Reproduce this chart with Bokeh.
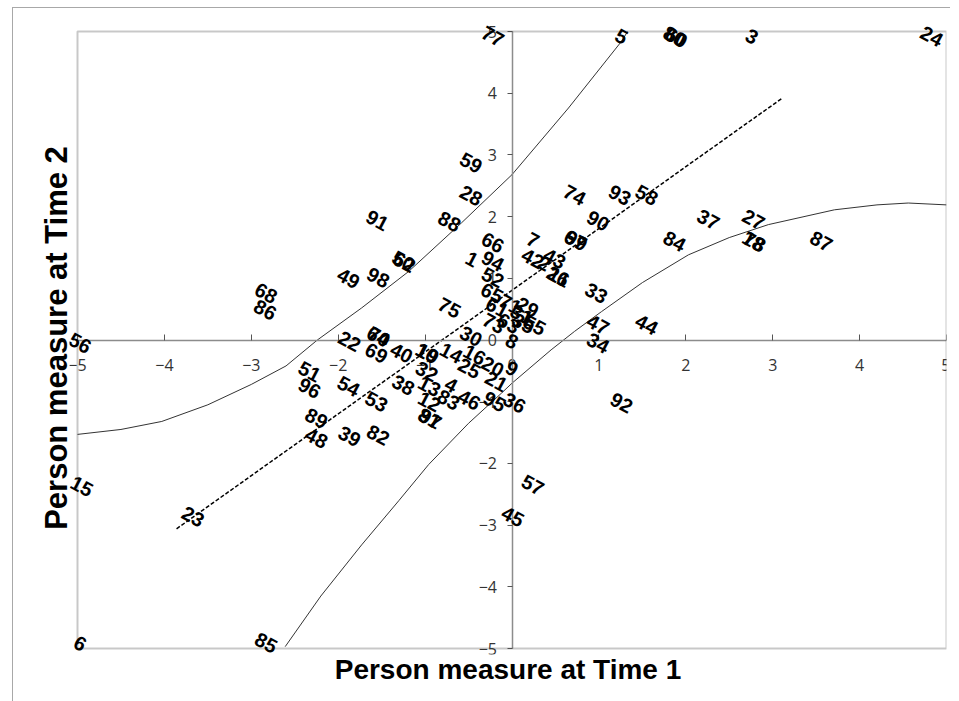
from bokeh.plotting import figure
from bokeh.models import ColumnDataSource, LabelSet, Range1d, FixedTicker, Title, BoxAnnotation
from bokeh.core.properties import value
from bokeh.embed import file_html
from bokeh.resources import INLINE

# person ids and their measures (Time 1 on x, Time 2 on y)
ids = ["77", "5", "80", "60", "3", "24", "59", "28", "91", "88", "50", "62", "49", "98",
       "68", "86", "56", "66", "1", "94", "52", "65", "75", "22", "74", "93", "58", "90",
       "37", "27", "7", "67", "99", "84", "18", "78", "87", "42", "2", "43", "26", "11",
       "33", "47", "44", "34", "61", "71", "29", "31", "73", "63", "35", "55", "8", "30",
       "64", "70", "69", "40", "10", "19", "14", "16", "32", "20", "25", "9", "51", "96",
       "54", "38", "13", "4", "21", "53", "12", "83", "46", "95", "36", "81", "97", "89",
       "48", "39", "82", "15", "23", "85", "6", "45", "57", "92"]
time1 = [-0.22, 1.26, 1.87, 1.89, 2.76, 4.83, -0.47, -0.47, -1.55, -0.72, -1.25, -1.24, -1.88, -1.54,
         -2.83, -2.84, -4.97, -0.22, -0.46, -0.22, -0.22, -0.23, -0.72, -1.87, 0.72, 1.24, 1.55, 0.99,
         2.26, 2.78, 0.24, 0.73, 0.74, 1.87, 2.78, 2.79, 3.56, 0.24, 0.37, 0.49, 0.53, 0.54,
         0.97, 0.99, 1.55, 0.99, -0.17, -0.02, 0.18, 0.11, -0.21, -0.04, 0.13, 0.26, 0.0, -0.47,
         -1.54, -1.53, -1.56, -1.27, -0.98, -0.97, -0.70, -0.43, -0.98, -0.22, -0.49, 0.0, -2.33, -2.33,
         -1.88, -1.25, -0.95, -0.70, -0.18, -1.56, -0.95, -0.73, -0.49, -0.20, 0.03, -0.95, -0.94, -2.25,
         -2.25, -1.87, -1.54, -4.95, -3.67, -2.83, -4.97, 0.01, 0.24, 1.26]
time2 = [4.92, 4.92, 4.92, 4.90, 4.92, 4.92, 2.87, 2.34, 1.94, 1.92, 1.28, 1.26, 1.00, 1.01,
         0.76, 0.49, -0.05, 1.58, 1.31, 1.28, 1.01, 0.76, 0.52, -0.02, 2.35, 2.35, 2.35, 1.93,
         1.95, 1.95, 1.62, 1.62, 1.61, 1.60, 1.60, 1.59, 1.60, 1.32, 1.24, 1.32, 1.03, 1.02,
         0.76, 0.25, 0.25, -0.05, 0.53, 0.58, 0.53, 0.41, 0.27, 0.27, 0.27, 0.24, -0.02, 0.06,
         0.06, 0.05, -0.21, -0.21, -0.21, -0.22, -0.21, -0.24, -0.51, -0.43, -0.46, -0.46, -0.51, -0.78,
         -0.75, -0.73, -0.75, -0.73, -0.67, -1.00, -1.00, -0.97, -0.97, -1.00, -1.02, -1.27, -1.28, -1.27,
         -1.59, -1.56, -1.54, -2.37, -2.86, -4.91, -4.92, -2.86, -2.35, -1.02]

# control curves and trend line
upper_x = [-5.0, -4.5, -4.03, -3.5, -3.0, -2.6, -2.24, -1.73, -1.19, -0.58, 0.0, 0.65, 1.26, 1.33]
upper_y = [-1.53, -1.45, -1.32, -1.05, -0.72, -0.42, 0.0, 0.52, 1.11, 1.9, 2.68, 3.76, 4.84, 5.0]
lower_x = [-2.61, -2.2, -1.73, -1.3, -0.96, -0.5, -0.12, 0.0, 0.45, 0.72, 1.03, 1.5, 2.03, 2.5,
           2.95, 3.71, 4.2, 4.56, 5.0]
lower_y = [-4.97, -4.15, -3.32, -2.6, -2.02, -1.35, -0.86, -0.70, -0.16, 0.14, 0.46, 0.93, 1.38, 1.66,
           1.87, 2.11, 2.19, 2.22, 2.19]
trend_x = [-3.86, 3.10]
trend_y = [-3.06, 3.91]

ticks = [-5, -4, -3, -2, -1, 0, 1, 2, 3, 4, 5]
lo, hi = ticks[0], ticks[-1]

# box (-5..5) in pixels, with a little room around it so edge labels are not cut
box_w, box_h = 869, 617
pad_l, pad_r, pad_t, pad_b = 8, 0, 10, 6
ux = box_w / (hi - lo)
uy = box_h / (hi - lo)

p = figure(frame_width=box_w + pad_l + pad_r, frame_height=box_h + pad_t + pad_b,
           x_range=Range1d(lo - pad_l / ux, hi + pad_r / ux),
           y_range=Range1d(lo - pad_b / uy, hi + pad_t / uy),
           output_backend="svg", toolbar_location=None,
           min_border_left=56, min_border_right=4, min_border_top=13, min_border_bottom=47)
p.margin = (7, 0, 0, 12)
p.styles = {"border-top": "1px solid #a8a8a8", "border-left": "1px solid #a8a8a8"}
p.background_fill_color = "white"
p.border_fill_color = "white"
p.grid.visible = False
p.outline_line_color = None

p.add_layout(BoxAnnotation(left=lo, right=hi, bottom=lo, top=hi, fill_alpha=0,
                           line_color="#4a4a4a", line_width=2))

for ax in (p.xaxis[0], p.yaxis[0]):
    ax.fixed_location = 0
    ax.bounds = (lo, hi)
    ax.ticker = FixedTicker(ticks=ticks)
    ax.minor_tick_line_color = None
    ax.axis_line_color = "#8c8c8c"
    ax.axis_line_width = 1.5
    ax.major_tick_line_color = "#555555"
    ax.major_label_text_font = "Open Sans"
    ax.major_label_text_font_size = "16px"
    ax.major_label_text_color = "#333333"

p.xaxis.major_tick_in = 6
p.xaxis.major_tick_out = 0
p.xaxis.major_label_standoff = 19
p.yaxis.major_tick_in = 0
p.yaxis.major_tick_out = 5
p.yaxis.major_label_standoff = 10

p.line(upper_x, upper_y, line_color="#333333", line_width=1)
p.line(lower_x, lower_y, line_color="#333333", line_width=1)
p.line(trend_x, trend_y, line_color="black", line_width=1.5, line_dash="4 2")

src = ColumnDataSource(dict(x=time1, y=time2, id=ids))
labels = LabelSet(x="x", y="y", text="id", source=src, angle=-0.49,
                  text_align="center", text_baseline="middle",
                  text_font=value("Liberation Sans"), text_font_size=value("20px"),
                  text_font_style=value("bold"), text_color="black")
p.add_layout(labels)

p.add_layout(Title(text="Person measure at Time 1", align="center",
                   text_font="Liberation Sans", text_font_size="28px",
                   text_font_style="bold", text_color="black", standoff=-6), "below")
p.add_layout(Title(text="Person measure at Time 2", align="center",
                   text_font="Liberation Sans", text_font_size="31px",
                   text_font_style="bold", text_color="black", standoff=-8), "left")

open("out.html", "w").write(file_html(p, INLINE))
